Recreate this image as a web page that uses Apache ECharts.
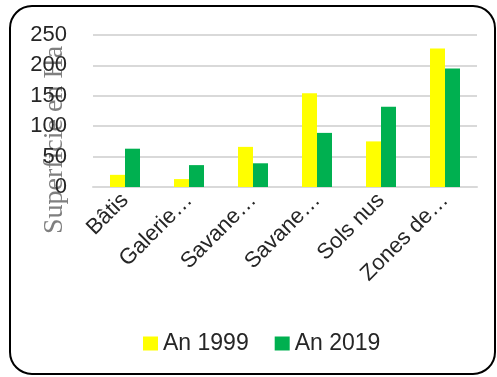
<!DOCTYPE html>
<html>
<head>
<meta charset="utf-8">
<script src="https://cdn.jsdelivr.net/npm/echarts@6/dist/echarts.min.js"></script>
<style>
  html, body { margin: 0; padding: 0; background: #fff; }
  #chart { width: 497px; height: 377px; }
</style>
</head>
<body>
<div id="chart"></div>
<script>
const categories = ['Bâtis', 'Galerie…', 'Savane…', 'Savane…', 'Sols nus', 'Zones de…'];
const an1999 = [20, 13, 66, 154, 75, 228];
const an2019 = [63, 36, 39, 89, 132, 195];
const seriesNames = ['An 1999', 'An 2019'];

const chart = echarts.init(document.getElementById('chart'));

const font = '"Liberation Sans", Arial, sans-serif';

chart.setOption({
  animation: false,
  graphic: [{
    type: 'rect',
    shape: { x: 10, y: 6, width: 485, height: 368, r: 22 },
    style: { fill: 'none', stroke: '#000', lineWidth: 2 },
    z: -1
  }],
  legend: {
    data: seriesNames,
    left: 138,
    top: 327,
    itemWidth: 15,
    itemHeight: 14,
    itemGap: 26,
    icon: 'rect',
    textStyle: { fontFamily: font, fontSize: 23, color: '#262626' }
  },
  grid: { left: 93, right: 20, top: 35, bottom: 190, outerBoundsMode: 'none' },
  xAxis: {
    type: 'category',
    data: categories,
    axisTick: { show: false },
    axisLine: { lineStyle: { color: '#d9d9d9', width: 2 } },
    axisLabel: {
      rotate: 45,
      interval: 0,
      margin: 10,
      fontFamily: font,
      fontSize: 22,
      color: '#262626'
    }
  },
  yAxis: {
    type: 'value',
    min: 0,
    max: 250,
    interval: 50,
    name: 'Superficie en Ha',
    nameLocation: 'middle',
    nameGap: 24,
    nameMoveOverlap: false,
    nameTextStyle: {
      fontFamily: '"Liberation Serif", "Times New Roman", serif',
      fontSize: 28,
      color: '#7f7f7f',
      padding: [0, 58, 0, 0]
    },
    axisLine: { show: false },
    axisTick: { show: false },
    splitLine: { lineStyle: { color: '#d9d9d9', width: 2 } },
    axisLabel: {
      margin: 26,
      fontFamily: font,
      fontSize: 22,
      color: '#262626'
    }
  },
  series: [
    {
      name: seriesNames[0],
      type: 'bar',
      data: an1999,
      barWidth: 15,
      barGap: '0%',
      itemStyle: { color: '#ffff00' }
    },
    {
      name: seriesNames[1],
      type: 'bar',
      data: an2019,
      barWidth: 15,
      itemStyle: { color: '#00b050' }
    }
  ]
});
</script>
</body>
</html>
